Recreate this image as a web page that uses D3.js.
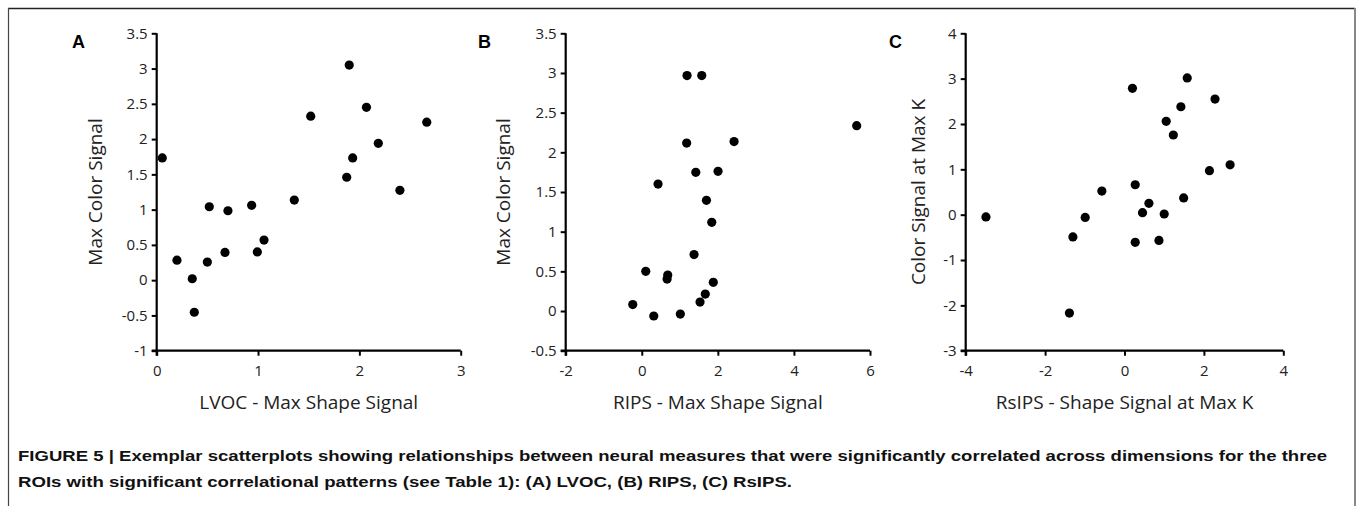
<!DOCTYPE html>
<html>
<head>
<meta charset="utf-8">
<script src="https://cdn.jsdelivr.net/npm/d3@7"></script>
<style>
  html, body { margin: 0; padding: 0; background: #fff; }
  svg { display: block; }
</style>
</head>
<body>
<svg id="chart" width="1357" height="506"></svg>
<script>
// ---------- DATA ----------
const panelLetters = ["A", "B", "C"];
const xTitles = ["LVOC - Max Shape Signal", "RIPS - Max Shape Signal", "RsIPS - Shape Signal at Max K"];
const yTitles = ["Max Color Signal", "Max Color Signal", "Color Signal at Max K"];

const xTicksA = [0, 1, 2, 3];
const yTicksA = [-1, -0.5, 0, 0.5, 1, 1.5, 2, 2.5, 3, 3.5];
const xTicksB = [-2, 0, 2, 4, 6];
const yTicksB = [-0.5, 0, 0.5, 1, 1.5, 2, 2.5, 3, 3.5];
const xTicksC = [-4, -2, 0, 2, 4];
const yTicksC = [-3, -2, -1, 0, 1, 2, 3, 4];

// Panel A: LVOC
const xA = [0.055, 1.90, 2.07, 2.665, 1.52, 2.187, 1.934, 1.875, 2.40, 1.358, 0.519, 0.703, 0.937, 1.059, 0.674, 0.993, 0.20, 0.50, 0.351, 0.371];
const yA = [1.733, 3.05, 2.45, 2.24, 2.325, 1.94, 1.733, 1.459, 1.274, 1.136, 1.041, 0.984, 1.061, 0.568, 0.393, 0.40, 0.284, 0.256, 0.02, -0.455];

// Panel B: RIPS
const xB = [1.19, 1.577, 5.65, 1.18, 2.426, 1.42, 2.005, 0.428, 1.70, 1.84, 1.375, 0.105, 0.683, 0.665, 1.88, 1.67, 1.532, -0.237, 0.315, 1.014];
const yB = [2.967, 2.967, 2.336, 2.117, 2.135, 1.748, 1.76, 1.60, 1.395, 1.118, 0.711, 0.50, 0.454, 0.403, 0.362, 0.214, 0.113, 0.081, -0.063, -0.038];

// Panel C: RsIPS
const xC = [-3.49, 0.20, 1.58, 2.28, 1.42, 1.05, 1.23, 2.66, 2.14, 0.27, -0.57, 1.49, 0.615, 0.454, 1.0, -0.99, -1.30, 0.27, 0.868, -1.387];
const yC = [-0.05, 2.786, 3.015, 2.55, 2.38, 2.058, 1.757, 1.10, 0.97, 0.66, 0.52, 0.37, 0.25, 0.044, 0.015, -0.06, -0.49, -0.61, -0.567, -2.17];

const captionLines = [
  "FIGURE 5 | Exemplar scatterplots showing relationships between neural measures that were significantly correlated across dimensions for the three",
  "ROIs with significant correlational patterns (see Table 1): (A) LVOC, (B) RIPS, (C) RsIPS."
];

// ---------- LAYOUT ----------
const fmt = d => String(d);   // plain hyphen-minus like the reference
const panels = [
  { xs: xA, ys: yA, xd: [0, 3], yd: [-1, 3.5], xr: [156.7, 460.7], xt: xTicksA, yt: yTicksA,
    letterX: 72, yTitleX: 95 },
  { xs: xB, ys: yB, xd: [-2, 6], yd: [-0.5, 3.5], xr: [565.7, 870], xt: xTicksB, yt: yTicksB,
    letterX: 478, yTitleX: 503 },
  { xs: xC, ys: yC, xd: [-4, 4], yd: [-3, 4], xr: [965.7, 1283.3], xt: xTicksC, yt: yTicksC,
    letterX: 889, yTitleX: 918 }
];
const yRange = [350.7, 33.3];

const svg = d3.select("#chart");

// frame
svg.append("line").attr("x1", 8).attr("x2", 1355).attr("y1", 8.5).attr("y2", 8.5)
  .attr("stroke", "#222").attr("stroke-width", 1.5);
svg.append("line").attr("x1", 8.5).attr("x2", 8.5).attr("y1", 8).attr("y2", 506)
  .attr("stroke", "#444").attr("stroke-width", 1.2);
svg.append("line").attr("x1", 1355).attr("x2", 1355).attr("y1", 8).attr("y2", 506)
  .attr("stroke", "#888").attr("stroke-width", 2);

const tickFont = "'Open Sans', 'DejaVu Sans', sans-serif";

panels.forEach((p, i) => {
  const x = d3.scaleLinear().domain(p.xd).range(p.xr);
  const y = d3.scaleLinear().domain(p.yd).range(yRange);
  const g = svg.append("g");

  const xAxis = d3.axisBottom(x).tickValues(p.xt).tickSize(5).tickSizeOuter(0).tickPadding(10).tickFormat(fmt);
  const yAxis = d3.axisLeft(y).tickValues(p.yt).tickSize(5).tickSizeOuter(0).tickPadding(4).tickFormat(fmt);

  const gx = g.append("g").attr("transform", `translate(0,${yRange[0]})`).call(xAxis);
  const gy = g.append("g").attr("transform", `translate(${p.xr[0]},0)`).call(yAxis);

  [gx, gy].forEach(ax => {
    ax.select(".domain").attr("stroke", "#000").attr("stroke-width", 2.2);
    ax.selectAll(".tick line").attr("stroke", "#000").attr("stroke-width", 2);
    ax.selectAll(".tick text").attr("fill", "#222").style("font-family", tickFont).style("font-size", "15px");
  });
  gy.select(".domain").attr("d", `M0,${yRange[1]}V${yRange[0] + 5}`);
  gx.select(".domain").attr("d", `M${p.xr[0] - 5},0H${p.xr[1]}`);

  // points
  g.selectAll("circle.pt").data(p.xs.map((v, k) => [v, p.ys[k]])).enter()
    .append("circle").attr("class", "pt")
    .attr("cx", d => x(d[0])).attr("cy", d => y(d[1])).attr("r", 4.6).attr("fill", "#000");

  // titles
  g.append("text").attr("x", (p.xr[0] + p.xr[1]) / 2).attr("y", 409)
    .attr("text-anchor", "middle").attr("fill", "#222")
    .style("font-family", tickFont).style("font-size", "19px").text(xTitles[i]);
  g.append("text").attr("transform", `translate(${p.yTitleX + 7},${(yRange[0] + yRange[1]) / 2}) rotate(-90)`)
    .attr("text-anchor", "middle").attr("fill", "#222")
    .style("font-family", tickFont).style("font-size", "19px").text(yTitles[i]);

  // panel letter
  g.append("text").attr("x", p.letterX).attr("y", 48)
    .attr("fill", "#000").style("font-family", "'Liberation Sans', Arial, sans-serif")
    .style("font-weight", "bold").style("font-size", "18px").text(panelLetters[i]);
});

// caption (condensed bold face: fit to the reference line lengths)
const captionWidths = [1309, 774];
captionLines.forEach((t, k) => {
  svg.append("text").attr("x", 18).attr("y", 461 + k * 26)
    .attr("fill", "#111")
    .attr("textLength", captionWidths[k]).attr("lengthAdjust", "spacingAndGlyphs")
    .style("font-family", "'Liberation Sans', Arial, sans-serif")
    .style("font-weight", "bold").style("font-size", "15.5px")
    .text(t);
});
</script>
</body>
</html>
